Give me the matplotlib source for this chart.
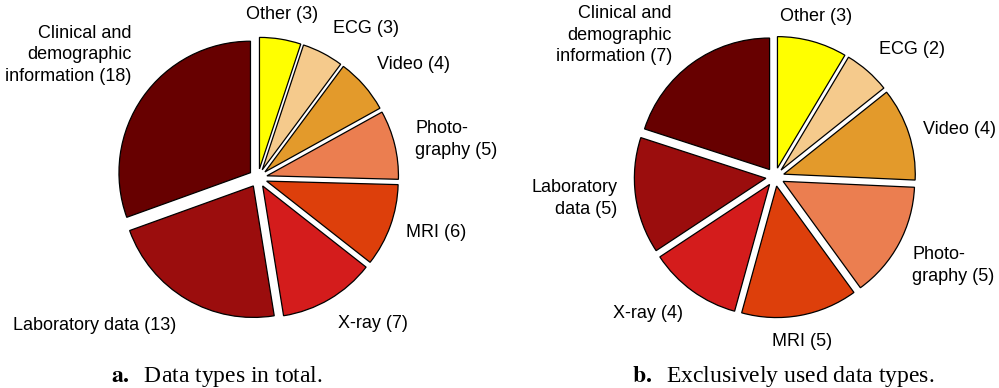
import numpy as np
import matplotlib.pyplot as plt

plt.rcParams['font.family'] = ['Liberation Sans', 'DejaVu Sans']
plt.rcParams['mathtext.fontset'] = 'stix'

# data types, clockwise from the top
total_names = ['Other', 'ECG', 'Video', 'Photo-\ngraphy', 'MRI', 'X-ray',
               'Laboratory data', 'Clinical and\ndemographic\ninformation']
total_counts = [3, 3, 4, 5, 6, 7, 13, 18]

excl_names = ['Other', 'ECG', 'Video', 'Photo-\ngraphy', 'MRI', 'X-ray',
              'Laboratory\ndata', 'Clinical and\ndemographic\ninformation']
excl_counts = [3, 2, 4, 5, 5, 4, 5, 7]

colors = ['#ffff00', '#f5ca8c', '#e39a2b', '#eb7e50', '#dd3f0b', '#d41c1c', '#9b0d0d', '#670000']

# label nudges in pixels, (right, up); the original labels were placed by hand
total_nudge = [(-2, -5), (0, -3), (-3, -2), (0, 0), (-4, 0), (-2, 2), (0, 0), (6, 0)]
excl_nudge = [(-2, -4), (-2, -3), (-6, -2), (-5, -12), (-2, 3), (3, 3), (3, 0), (-8, -19)]

W, H = 999, 388
R = 131.5  # pie radius in pixels

fig = plt.figure(figsize=(W / 100, H / 100), dpi=100)


def draw_pie(x0, x1, cx, cy, names, counts, nudges):
    ax = fig.add_axes([x0 / W, 0, (x1 - x0) / W, 1])
    wedges, _ = ax.pie(counts, colors=colors, startangle=90, counterclock=False,
                       explode=[0.07] * len(counts),
                       wedgeprops=dict(edgecolor='black', linewidth=0.9))
    for w, name, n, (dx, dy) in zip(wedges, names, counts, nudges):
        t = np.deg2rad((w.theta1 + w.theta2) / 2)
        c, s = np.cos(t), np.sin(t)
        ha = 'left' if c > 0.3 else ('right' if c < -0.3 else 'center')
        va = 'bottom' if s > 0.5 else ('top' if s < -0.5 else 'center')
        px = w.center[0] + 1.16 * c + dx / R
        py = w.center[1] + 1.16 * s + dy / R
        ax.text(px, py, f'{name} ({n})', ha=ha, va=va, fontsize=13, linespacing=1.35)
    ax.set_xlim((x0 - cx) / R, (x1 - cx) / R)
    ax.set_ylim((cy - H) / R, cy / R)
    ax.axis('off')
    return ax


draw_pie(0, 500, 258, 178, total_names, total_counts, total_nudge)
draw_pie(500, 999, 775, 177, excl_names, excl_counts, excl_nudge)

fig.text(217 / W, 1 - 382 / H, r'$\mathbf{a.}$  Data types in total.', ha='center', va='baseline',
         fontsize=17, family='Liberation Serif')
fig.text(783 / W, 1 - 382 / H, r'$\mathbf{b.}$  Exclusively used data types.', ha='center', va='baseline',
         fontsize=17, family='Liberation Serif')

fig.savefig('out.png', dpi=100)
